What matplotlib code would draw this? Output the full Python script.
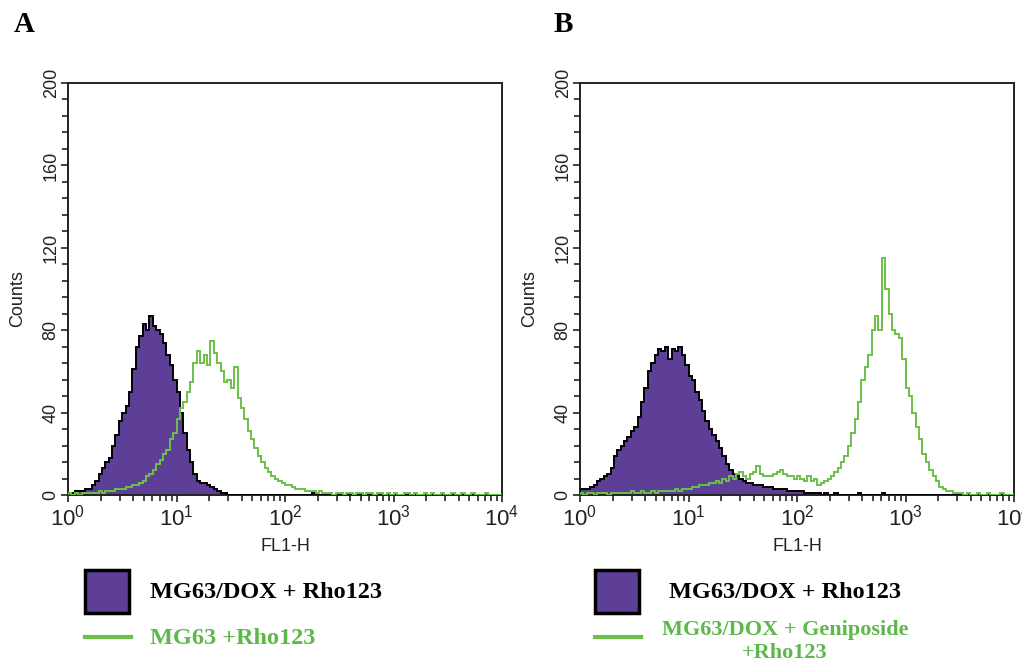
import numpy as np
import matplotlib
matplotlib.use('Agg')
import matplotlib.pyplot as plt
from matplotlib.ticker import MultipleLocator, LogLocator
from matplotlib.patches import Rectangle
from matplotlib.lines import Line2D

plt.rcParams['font.family'] = ['Liberation Sans', 'DejaVu Sans']
plt.rcParams['mathtext.default'] = 'regular'

# 128 log channels over 4 decades (FL1-H 10^0 .. 10^4)
n_channels = 128
decades = 4

# Panel A: MG63/DOX + Rho123 (filled) and MG63 + Rho123 (green line)
a_dox = [1, 1, 2, 2, 2, 3, 3, 5, 7, 10, 13, 16, 18, 24, 29, 36,
         40, 43, 50, 61, 72, 77, 83, 80, 87, 82, 80, 78, 74, 68, 63, 56,
         50, 40, 30, 22, 16, 10, 7, 6, 6, 5, 4, 3, 2, 1, 1, 0,
         0, 0, 0, 0, 0, 0, 0, 0, 0, 0, 0, 0, 0, 0, 0, 0,
         0, 0, 0, 0, 0, 0, 0, 0, 1, 0, 0, 0, 0, 0, 0, 0,
         0, 0, 0, 0, 0, 0, 0, 0, 0, 0, 0, 0, 0, 0, 0, 0,
         0, 0, 0, 0, 0, 0, 0, 0, 0, 0, 0, 0, 0, 0, 0, 0,
         0, 0, 0, 0, 0, 0, 0, 0, 0, 0, 0, 0, 0, 0, 0, 0]
a_mg63 = [1, 0, 1, 0, 1, 1, 1, 1, 1, 2, 1, 2, 2, 2, 3, 3,
          3, 4, 4, 5, 5, 6, 7, 9, 10, 12, 15, 17, 20, 22, 27, 30,
          37, 42, 45, 50, 55, 64, 70, 64, 68, 63, 75, 69, 64, 60, 55, 56,
          52, 62, 47, 42, 37, 31, 27, 23, 19, 16, 13, 11, 9, 8, 7, 6,
          5, 5, 4, 3, 3, 3, 2, 2, 2, 1, 2, 1, 1, 1, 0, 1,
          1, 0, 1, 1, 0, 1, 1, 0, 1, 1, 0, 1, 1, 0, 1, 0,
          1, 0, 0, 1, 1, 0, 1, 0, 0, 1, 0, 1, 0, 0, 1, 0,
          0, 1, 0, 0, 1, 0, 0, 1, 0, 0, 0, 1, 0, 0, 0, 0]

# Panel B: MG63/DOX + Rho123 (filled) and MG63/DOX + Geniposide + Rho123 (green)
b_dox = [3, 3, 3, 4, 5, 7, 8, 9, 10, 13, 19, 22, 24, 26, 28, 31,
         33, 38, 45, 52, 60, 64, 68, 71, 70, 72, 66, 71, 70, 72, 68, 63,
         58, 56, 50, 46, 41, 36, 32, 29, 26, 23, 19, 15, 12, 10, 9, 8,
         7, 6, 6, 5, 5, 5, 4, 4, 4, 3, 3, 3, 3, 2, 2, 2,
         2, 2, 1, 1, 1, 1, 1, 0, 1, 0, 0, 1, 0, 0, 0, 0,
         0, 0, 1, 0, 0, 0, 0, 0, 0, 1, 0, 0, 0, 0, 0, 0,
         0, 0, 0, 0, 0, 0, 0, 0, 0, 0, 0, 0, 0, 0, 0, 0,
         0, 0, 0, 0, 0, 0, 0, 0, 0, 0, 0, 0, 0, 0, 0, 0]
b_genip = [1, 0, 1, 1, 0, 1, 1, 1, 0, 1, 1, 1, 1, 1, 1, 2,
           1, 1, 2, 1, 1, 2, 1, 2, 2, 2, 2, 2, 3, 2, 3, 3,
           3, 4, 4, 5, 5, 5, 6, 6, 7, 6, 8, 7, 9, 8, 10, 11,
           9, 8, 10, 11, 14, 10, 9, 9, 9, 10, 11, 12, 10, 9, 9, 8,
           9, 8, 7, 9, 7, 8, 5, 6, 7, 8, 9, 11, 13, 16, 19, 24,
           30, 37, 45, 56, 62, 68, 80, 87, 80, 115, 100, 88, 80, 78, 76, 66,
           52, 48, 40, 33, 27, 20, 16, 12, 9, 7, 4, 3, 2, 2, 1, 1,
           1, 0, 1, 0, 0, 1, 0, 0, 1, 0, 0, 0, 1, 0, 0, 0]

y_ticks = [0, 40, 80, 120, 160, 200]

purple = '#5E3F98'
green = '#6CC04A'
ink = '#222222'

# channel edges on the log axis
edges = 10 ** (np.arange(n_channels + 1) * decades / n_channels)

W, H = 1022, 668
fig = plt.figure(figsize=(W / 100, H / 100), dpi=100)


def px(x, y):
    # figure pixel (from top-left) -> figure fraction
    return x / W, 1 - y / H


def draw_panel(left, filled, line):
    ax = fig.add_axes([left / W, 1 - 495 / H, 434 / W, 412 / H])
    ax.stairs(filled, edges, fill=True, color=purple, zorder=2)
    ax.stairs(filled, edges, color='black', lw=1.4, zorder=3)
    ax.stairs(line, edges, color=green, lw=1.4, zorder=4)
    ax.set_xscale('log')
    ax.set_xlim(1, 1e4)
    ax.set_ylim(0, 200)
    ax.set_yticks(y_ticks)
    ax.yaxis.set_minor_locator(MultipleLocator(8))
    ax.xaxis.set_major_locator(LogLocator(base=10, numticks=10))
    ax.xaxis.set_minor_locator(LogLocator(base=10, subs=np.arange(2, 10), numticks=20))
    ax.tick_params(axis='both', which='both', direction='out', width=1.2, color=ink)
    ax.tick_params(axis='both', which='major', length=5)
    ax.tick_params(axis='both', which='minor', length=4)
    ax.tick_params(axis='x', labelsize=16, pad=2, labelcolor=ink)
    ax.tick_params(axis='y', labelsize=13, pad=1, labelcolor=ink)
    plt.setp(ax.get_yticklabels(), rotation=90, va='center')
    for s in ax.spines.values():
        s.set_linewidth(1.4)
        s.set_color(ink)
    ax.set_ylabel('Counts', fontsize=13, color=ink)
    ax.yaxis.set_label_coords(-0.097, 0.478)
    ax.set_xlabel('FL1-H', fontsize=13, color=ink)
    ax.xaxis.set_label_coords(0.5, -0.105)
    return ax


draw_panel(68, a_dox, a_mg63)
draw_panel(580, b_dox, b_genip)

serif_bold = dict(family=['Liberation Serif', 'DejaVu Serif'], weight='bold')

fig.text(*px(14, 25), 'A', fontsize=21, va='center', ha='left', **serif_bold)
fig.text(*px(554, 25), 'B', fontsize=21, va='center', ha='left', **serif_bold)

# legends
for sq_x, txt_x, ha in [(85, 150, 'left'), (595, 785, 'center')]:
    x0, y0 = px(sq_x, 613)
    fig.add_artist(Rectangle((x0, y0), 44 / W, 43 / H, transform=fig.transFigure,
                             facecolor=purple, edgecolor='black', lw=2.5))
    lx0, ly = px(sq_x, 637)
    lx1, _ = px(sq_x + 46, 637)
    fig.add_artist(Line2D([lx0, lx1], [ly, ly], transform=fig.transFigure,
                          color=green, lw=3))
    fig.text(*px(txt_x, 593), 'MG63/DOX + Rho123', fontsize=17.5, va='center',
             ha=ha, color='black', **serif_bold)

fig.text(*px(150, 638), 'MG63 +Rho123', fontsize=17.5, va='center', ha='left',
         color='#5DB84A', **serif_bold)
fig.text(*px(785, 642), 'MG63/DOX + Geniposide\n+Rho123', fontsize=16, va='center',
         ha='center', multialignment='center', color='#5DB84A', **serif_bold)

fig.savefig('out.png', dpi=100)
